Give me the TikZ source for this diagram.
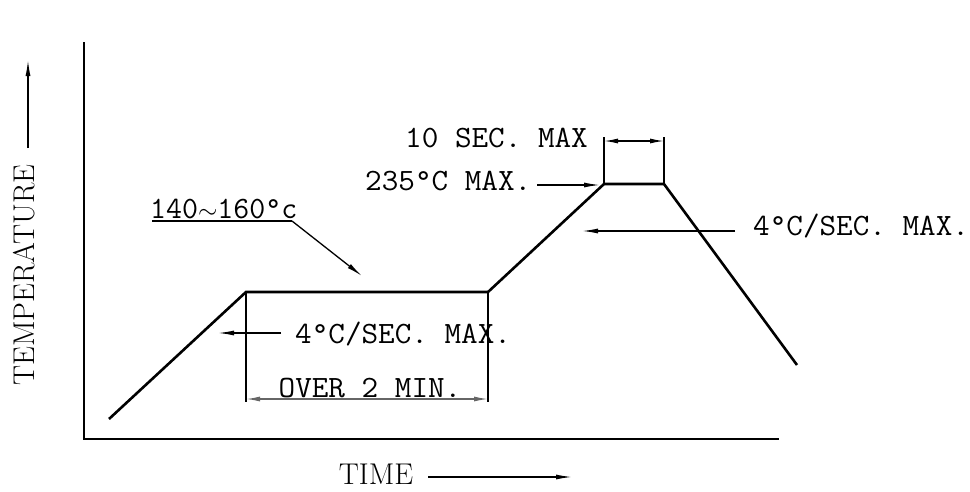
\documentclass[tikz,border=0pt]{standalone}
\usepackage{graphicx}
\usetikzlibrary{arrows.meta}
\begin{document}
\begin{tikzpicture}[x=1pt,y=-1pt,
  axis/.style={line width=2.6pt},
  curve/.style={line width=2.6pt,line join=miter},
  ext/.style={line width=1.8pt},
  dim/.style={line width=1.3pt,{Latex[length=14pt,width=5pt]}-{Latex[length=14pt,width=5pt]}},
  arr/.style={line width=1.3pt,-{Latex[length=16pt,width=5pt]}},
  lab/.style={inner sep=0pt,font=\ttfamily\fontsize{31}{33}\selectfont},
  big/.style={inner sep=0pt,font=\fontsize{30}{32}\selectfont}]
\useasboundingbox (0,0) rectangle (970,491);
% axes
\coordinate (O) at (84,439);
\coordinate (Ytop) at (84,42);
\coordinate (Xend) at (779,439);
\draw[axis] (Ytop) -- (O) -- (Xend);
% profile
\coordinate (p0) at (109,419);
\coordinate (p1) at (246,292);
\coordinate (p2) at (488,292);
\coordinate (p3) at (604,184);
\coordinate (p4) at (664,184);
\coordinate (p5) at (797,365);
\draw[curve] (p0) -- (p1) -- (p2) -- (p3) -- (p4) -- (p5);
% over 2 min dimension
\coordinate (e1) at (246,402);
\coordinate (e2) at (488,402);
\draw[ext] (p1) -- (e1);
\draw[ext] (p2) -- (e2);
\coordinate (d1) at (246,399);
\coordinate (d2) at (488,399);
\draw[dim,gray!80!black] (d1) -- (d2);
\node[lab,anchor=base] (over) at (370,397) {\scalebox{1.04}[1]{OVER 2 MIN.}};
% 10 sec dimension
\coordinate (t1) at (604,137);
\coordinate (t2) at (664,137);
\draw[ext] (p3) -- (t1);
\draw[ext] (p4) -- (t2);
\coordinate (f1) at (604,141);
\coordinate (f2) at (664,141);
\draw[dim] (f1) -- (f2);
\node[lab,anchor=base west] (ten) at (405,147) {\scalebox{1.04}[1]{10 SEC. MAX}};
% 235
\node[lab,anchor=base west] (peak) at (365,190) {\scalebox{1.04}[1]{235°C MAX.}};
\coordinate (k1) at (537,185);
\coordinate (k2) at (600,185);
\draw[arr] (k1) -- (k2);
% right ramp label
\node[lab,anchor=base west] (rlab) at (753,235) {\scalebox{1.04}[1]{4°C/SEC. MAX.}};
\coordinate (r1) at (735,231);
\coordinate (r2) at (582,231);
\draw[arr] (r1) -- (r2);
% lower ramp label
\node[lab,anchor=base west] (llab) at (295,343) {\scalebox{1.04}[1]{4°C/SEC. MAX.}};
\coordinate (l1) at (281,333);
\coordinate (l2) at (218,333);
\draw[arr] (l1) -- (l2);
% soak label
\node[lab,anchor=base west] (soak) at (150,218) {140$\sim$160°c};
\coordinate (u1) at (152,221);
\coordinate (u2) at (292,221);
\coordinate (u3) at (362,276);
\draw[line width=1.8pt] (u1) -- (u2);
\draw[arr] (u2) -- (u3);
% axis titles
\node[big,rotate=90] (temp) at (24,275) {TEMPERATURE};
\coordinate (ta) at (28,148);
\coordinate (tb) at (28,60);
\draw[arr] (ta) -- (tb);
\node[big] (time) at (376,474) {TIME};
\coordinate (ha) at (428,477);
\coordinate (hb) at (572,477);
\draw[arr] (ha) -- (hb);
\end{tikzpicture}
\end{document}
